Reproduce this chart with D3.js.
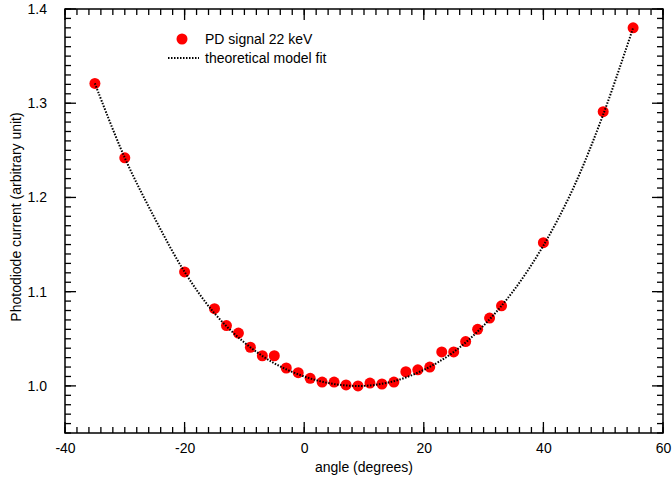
<!DOCTYPE html>
<html>
<head>
<meta charset="utf-8">
<script src="https://cdn.jsdelivr.net/npm/d3@7"></script>
<style>
  html, body { margin: 0; padding: 0; background: #fff; }
  svg { display: block; font-family: "Liberation Sans", Arial, sans-serif; }
</style>
</head>
<body>
<svg id="chart" width="672" height="485"></svg>
<script>
// Measured photodiode signal vs. angle
const angles = [-35, -30, -20, -15, -13, -11, -9, -7, -5, -3, -1, 1, 3, 5, 7, 9, 11, 13, 15, 17, 19, 21, 23, 25, 27, 29, 31, 33, 40, 50, 55];
const signal = [1.321, 1.242, 1.121, 1.082, 1.064, 1.056, 1.041, 1.032, 1.032, 1.019, 1.014, 1.008, 1.004, 1.004, 1.001, 1.000, 1.003, 1.002, 1.004, 1.015, 1.017, 1.020, 1.036, 1.036, 1.047, 1.060, 1.072, 1.085, 1.152, 1.291, 1.380];

// Model curve sampled along the angle range
const fitAngles = [-35, -30, -25, -20, -15, -10, -5, 0, 5, 10, 15, 20, 25, 30, 35, 40, 45, 50, 55];
const fitValues = [1.321, 1.242, 1.178, 1.121, 1.077, 1.046, 1.024, 1.010, 1.002, 1.000, 1.005, 1.017, 1.036, 1.064, 1.101, 1.149, 1.210, 1.288, 1.380];

const xTicks = [-40, -20, 0, 20, 40, 60];
const yTicks = [1.0, 1.1, 1.2, 1.3, 1.4];

const legendLabels = ["PD signal 22 keV", "theoretical model fit"];

const svg = d3.select("#chart");
const plotLeft = 65, plotRight = 663, plotTop = 9, plotBottom = 433;

const x = d3.scaleLinear().domain([-40, 60]).range([plotLeft, plotRight]);
const y = d3.scaleLinear().domain([0.95, 1.4]).range([plotBottom, plotTop]);

const xMinor = d3.range(-40, 60.001, 2);
const yMinor = d3.range(0.95, 1.4001, 0.01).map(v => +v.toFixed(2));

// inward-pointing tick marks on all four sides, placed by the scales
const tickG = svg.append("g").attr("stroke", "#000").attr("stroke-width", 1.3);
function xTickMarks(values, len) {
  tickG.selectAll(null).data(values).join("line")
    .attr("x1", d => x(d)).attr("x2", d => x(d))
    .attr("y1", plotBottom).attr("y2", plotBottom - len);
  tickG.selectAll(null).data(values).join("line")
    .attr("x1", d => x(d)).attr("x2", d => x(d))
    .attr("y1", plotTop).attr("y2", plotTop + len);
}
function yTickMarks(values, len) {
  tickG.selectAll(null).data(values).join("line")
    .attr("y1", d => y(d)).attr("y2", d => y(d))
    .attr("x1", plotLeft).attr("x2", plotLeft + len);
  tickG.selectAll(null).data(values).join("line")
    .attr("y1", d => y(d)).attr("y2", d => y(d))
    .attr("x1", plotRight).attr("x2", plotRight - len);
}
xTickMarks(xMinor, 6);
xTickMarks(xTicks, 11);
yTickMarks(yMinor, 6);
yTickMarks(yTicks, 11);

// tick labels
const xLab = svg.append("g").attr("transform", `translate(0,${plotBottom})`)
  .call(d3.axisBottom(x).tickValues(xTicks).tickSize(0).tickPadding(10).tickFormat(d => String(d)));
xLab.select(".domain").remove();
xLab.selectAll("text").attr("font-size", 14).attr("font-family", "Liberation Sans, Arial, sans-serif").attr("fill", "#000");

const yLab = svg.append("g").attr("transform", `translate(${plotLeft},0)`)
  .call(d3.axisLeft(y).tickValues(yTicks).tickSize(0).tickPadding(18).tickFormat(d3.format(".1f")));
yLab.select(".domain").remove();
yLab.selectAll("text").attr("font-size", 14).attr("font-family", "Liberation Sans, Arial, sans-serif").attr("fill", "#000");

// frame
svg.append("rect")
  .attr("x", plotLeft).attr("y", plotTop)
  .attr("width", plotRight - plotLeft).attr("height", plotBottom - plotTop)
  .attr("fill", "none").attr("stroke", "#000").attr("stroke-width", 1.5);

// axis titles
svg.append("text")
  .attr("x", (plotLeft + plotRight) / 2).attr("y", 472)
  .attr("text-anchor", "middle").attr("font-size", 14)
  .text("angle (degrees)");
svg.append("text")
  .attr("transform", `translate(21,${(plotTop + plotBottom) / 2 - 4}) rotate(-90)`)
  .attr("text-anchor", "middle").attr("font-size", 14)
  .text("Photodiode current (arbitrary unit)");

// data markers
svg.append("g").selectAll("circle")
  .data(angles.map((a, i) => [a, signal[i]]))
  .join("circle")
  .attr("cx", d => x(d[0]))
  .attr("cy", d => y(d[1]))
  .attr("r", 5.5)
  .attr("fill", "#ff0000");

// model curve
const line = d3.line()
  .x(d => x(d[0]))
  .y(d => y(d[1]))
  .curve(d3.curveCatmullRom);
svg.append("path")
  .datum(fitAngles.map((a, i) => [a, fitValues[i]]))
  .attr("d", line)
  .attr("fill", "none")
  .attr("stroke", "#000")
  .attr("stroke-width", 2)
  .attr("stroke-dasharray", "1.5,1.5");

// legend
const leg = svg.append("g");
leg.append("circle").attr("cx", 182).attr("cy", 39).attr("r", 5.5).attr("fill", "#ff0000");
leg.append("text").attr("x", 205).attr("y", 44).attr("font-size", 14).text(legendLabels[0]);
leg.append("line").attr("x1", 168).attr("x2", 199).attr("y1", 58).attr("y2", 58)
  .attr("stroke", "#000").attr("stroke-width", 2).attr("stroke-dasharray", "1.5,1.5");
leg.append("text").attr("x", 205).attr("y", 63).attr("font-size", 14).text(legendLabels[1]);
</script>
</body>
</html>
